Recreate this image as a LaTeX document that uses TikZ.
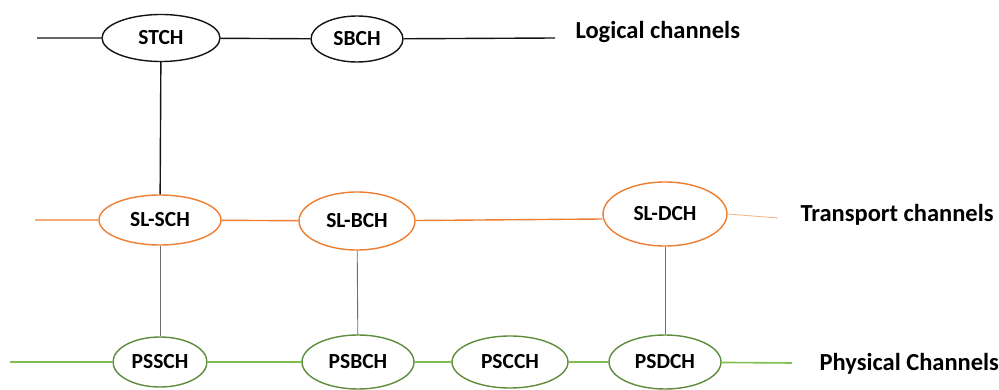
\documentclass[tikz,border=0pt]{standalone}
\usepackage{fontspec}
\setmainfont{Carlito}
\usetikzlibrary{shapes.geometric}
\definecolor{logicline}{RGB}{20,20,20}
\definecolor{transorange}{RGB}{237,125,49}
\definecolor{physline}{RGB}{128,190,80}
\definecolor{physedge}{RGB}{95,140,60}
\definecolor{linkgray}{RGB}{110,110,110}
\tikzset{
  chan/.style={ellipse, draw, line width=1.4pt, fill=white, inner sep=0pt,
    font=\fontsize{21.5}{24}\selectfont\bfseries},
  logic/.style={chan, draw=logicline},
  trans/.style={chan, draw=transorange},
  phys/.style={chan, draw=physedge},
  layertext/.style={anchor=west, font=\fontsize{24.5}{28}\selectfont\bfseries},
  logicwire/.style={draw=logicline, line width=1.4pt},
  transwire/.style={draw=transorange, line width=1.4pt},
  physwire/.style={draw=physline, line width=1.6pt},
  linkwire/.style={draw=linkgray, line width=0.9pt},
}
\begin{document}
\begin{tikzpicture}[x=1pt,y=-1pt]
\useasboundingbox (0,0) rectangle (999,390);

% logical channels
\coordinate (l0) at (37,38);
\coordinate (l1) at (555,38);
\node[logic, minimum width=118, minimum height=47] (stch) at (161,38) {STCH};
\node[logic, minimum width=92, minimum height=46] (sbch) at (357,39) {SBCH};
\node[layertext] (ltxt) at (572,32) {Logical channels};
\draw[logicwire] (l0) -- (stch) -- (sbch) -- (l1);

% transport channels
\coordinate (t0) at (35,220);
\coordinate (t1) at (778,218);
\node[trans, minimum width=122, minimum height=50] (slsch) at (160,220) {SL-SCH};
\node[trans, minimum width=116, minimum height=58] (slbch) at (357,221) {SL-BCH};
\node[trans, minimum width=124, minimum height=64] (sldch) at (665,214) {SL-DCH};
\node[layertext] (ttxt) at (797,215) {Transport channels};
\draw[transwire] (t0) -- (slsch) -- (slbch) -- (sldch.west |- 0,219);
\draw[transorange!60, line width=0.8pt] (sldch.east) -- (t1);

% physical channels
\coordinate (p0) at (10,362);
\coordinate (p1) at (792,363);
\node[phys, minimum width=94, minimum height=50] (pssch) at (160,362) {PSSCH};
\node[phys, minimum width=112, minimum height=54] (psbch) at (358,362) {PSBCH};
\node[phys, minimum width=116, minimum height=52] (pscch) at (510,362) {PSCCH};
\node[phys, minimum width=112, minimum height=54] (psdch) at (665,362) {PSDCH};
\node[layertext] (ptxt) at (816,364) {Physical Channels};
\draw[physwire] (p0) -- (pssch) -- (psbch) -- (pscch) -- (psdch) -- (p1);

% links between layers
\draw[logicwire] (stch) -- (slsch);
\draw[linkwire] (slsch) -- (pssch);
\draw[linkwire] (slbch) -- (psbch);
\draw[linkwire] (sldch) -- (psdch);
\end{tikzpicture}
\end{document}
